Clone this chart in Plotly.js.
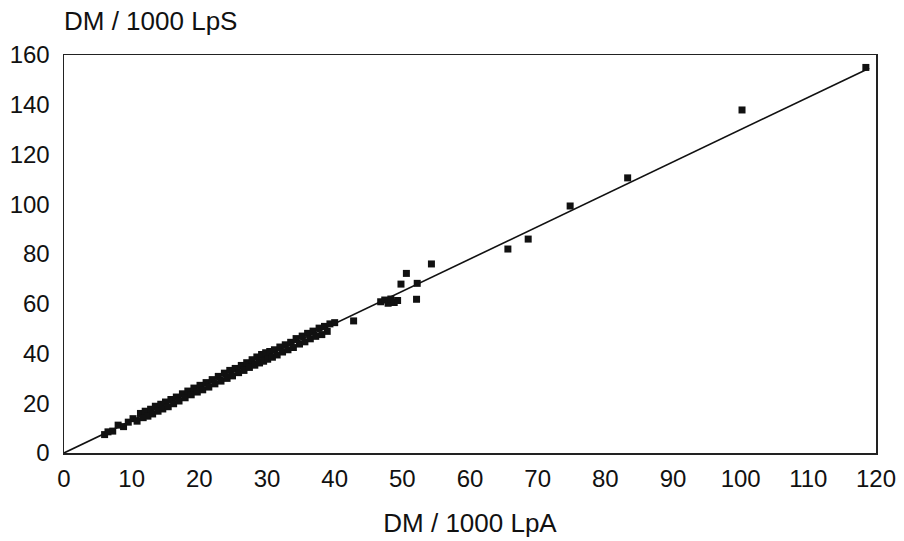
<!DOCTYPE html>
<html>
<head>
<meta charset="utf-8">
<script src="https://cdn.plot.ly/plotly-3.0.1.min.js"></script>
<style>html,body{margin:0;padding:0;background:#fff;}#chart{width:904px;height:541px;}</style>
</head>
<body>
<div id="chart"></div>
<script>
const lpaValues = [6.0,6.5,7.2,8.0,8.8,9.5,10.2,10.8,11.3,11.7,12.0,12.4,12.8,13.1,13.5,13.9,14.3,14.6,15.0,15.4,15.8,16.2,16.6,17.0,17.5,17.9,18.3,18.8,19.2,19.7,20.1,20.5,21.0,21.4,21.9,22.3,22.8,23.2,23.7,24.1,24.5,24.9,25.3,25.8,26.2,26.6,27.0,27.4,27.8,28.2,28.5,28.9,29.2,29.5,29.8,30.1,30.4,30.8,31.1,31.5,31.9,32.3,32.7,33.1,33.5,33.9,34.3,34.8,35.2,35.6,36.0,36.4,36.8,37.2,37.7,38.1,38.5,38.9,39.3,40.0,42.8,46.8,47.4,47.9,48.3,48.8,49.3,49.8,50.6,52.1,52.2,54.3,65.6,68.6,74.8,83.3,100.2,118.5];
const lpsValues = [7.4,8.5,8.8,11.2,10.6,12.4,13.8,12.8,15.9,14.2,16.8,14.8,17.6,15.7,18.8,16.8,19.6,17.7,20.5,18.6,21.5,19.8,22.5,20.9,23.8,22.2,24.9,23.4,26.1,24.5,27.2,25.4,28.3,26.5,29.5,27.8,30.8,28.9,32.1,30.0,33.2,31.0,34.0,32.3,35.2,33.2,36.3,34.4,37.5,35.3,38.6,36.2,39.6,36.9,40.3,37.7,40.8,38.5,41.5,39.4,42.6,40.6,43.5,41.5,44.5,42.4,46.0,43.8,47.0,44.7,48.1,45.9,49.0,46.9,50.2,47.6,50.9,48.9,51.9,52.4,53.1,60.8,61.5,60.2,61.9,60.5,61.3,67.9,72.2,61.8,68.2,76.0,82.0,86.0,99.3,110.6,137.9,155.0];
const fitX = [0, 119];
const fitY = [0, 154.7];
const xTicks = [0,10,20,30,40,50,60,70,80,90,100,110,120];
const yTicks = [0,20,40,60,80,100,120,140,160];

const font = {family: 'Liberation Sans, Arial, sans-serif', size: 24, color: '#111'};
const titleFont = {family: 'Liberation Sans, Arial, sans-serif', size: 26, color: '#111'};

Plotly.newPlot('chart', [
  {x: fitX, y: fitY, mode: 'lines', line: {color: '#111', width: 1.6}, hoverinfo: 'skip'},
  {x: lpaValues, y: lpsValues, mode: 'markers', marker: {symbol: 'square', size: 7, color: '#111', line: {width: 0}}}
], {
  width: 904, height: 541,
  margin: {l: 64, r: 28, t: 55, b: 88},
  paper_bgcolor: '#fff', plot_bgcolor: '#fff',
  showlegend: false,
  font: font,
  xaxis: {range: [0, 120], tickvals: xTicks, ticktext: xTicks.map(String), ticks: '', ticklabelstandoff: 4,
    showgrid: false, zeroline: false, showline: true, mirror: true, linecolor: '#222', linewidth: 1.5,
    tickfont: font, title: {text: 'DM / 1000 LpA', font: titleFont, standoff: 22}},
  yaxis: {range: [0, 160], tickvals: yTicks, ticktext: yTicks.map(String), ticks: '', ticklabelstandoff: 8,
    showgrid: false, zeroline: false, showline: true, mirror: true, linecolor: '#222', linewidth: 1.5,
    tickfont: font},
  annotations: [{text: 'DM / 1000 LpS', xref: 'paper', yref: 'paper', x: -0.003, y: 1.0, yshift: 34, xanchor: 'left', yanchor: 'middle', showarrow: false, font: titleFont}]
}, {displayModeBar: false, staticPlot: true});
</script>
</body>
</html>
